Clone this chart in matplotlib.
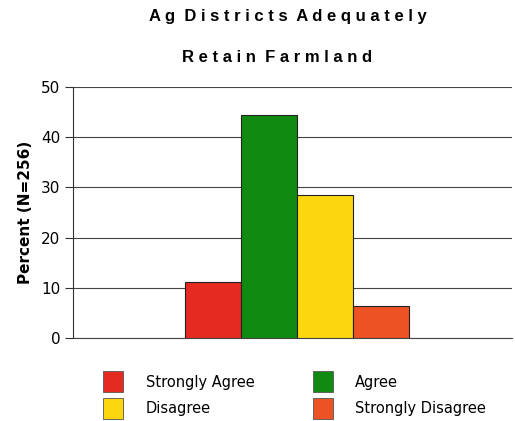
import matplotlib.pyplot as plt
import numpy as np
from matplotlib.patches import Rectangle

categories = ["Strongly Agree", "Agree", "Disagree", "Strongly Disagree"]
percents = [11.2, 44.5, 28.4, 6.4]
colors = ["#e52a22", "#118a12", "#fcd70f", "#ec5224"]
yticks = [0, 10, 20, 30, 40, 50]

fig = plt.figure(figsize=(5.15, 4.21), dpi=100)
W, H = 515, 421
ax = fig.add_axes([73 / W, (H - 338) / H, (512 - 73) / W, (338 - 87) / H])

x = np.arange(len(categories))
ax.bar(x, percents, width=1.0, color=colors, edgecolor="#222222", linewidth=0.8, zorder=3)
ax.set_xlim(-2.5, 5.33)
ax.set_ylim(0, 50)
ax.set_yticks(yticks)
ax.set_yticklabels([str(t) for t in yticks], fontsize=11)
ax.yaxis.grid(True, color="#444444", linewidth=0.8, zorder=0)
ax.axhline(0, color="#444444", linewidth=0.8, zorder=2, clip_on=False)
ax.set_xticks([])
for s in ["top", "right", "bottom"]:
    ax.spines[s].set_visible(False)
ax.spines["left"].set_color("#333333")
ax.tick_params(axis="y", length=6, width=0.8, color="#333333", pad=3)
ax.set_ylabel("Percent (N=256)", fontsize=11, fontweight="bold", labelpad=6)

fig.text(288 / W, 1 - 17 / H, "A g  D i s t r i c t s  A d e q u a t e l y", ha="center", va="center",
         fontsize=12, fontweight="bold", family="Liberation Sans")
fig.text(277 / W, 1 - 58 / H, "R e t a i n  F a r m l a n d", ha="center", va="center",
         fontsize=12, fontweight="bold", family="Liberation Sans")

# legend
pos = [(103, 371, 146), (313, 371, 355), (103, 398, 146), (313, 398, 355)]
for (lx, ly, tx), i in zip(pos, range(len(categories))):
    fig.patches.append(Rectangle((lx / W, 1 - (ly + 21) / H), 20 / W, 21 / H,
                                 transform=fig.transFigure, facecolor=colors[i],
                                 edgecolor="#555555", linewidth=0.6))
    fig.text(tx / W, 1 - (ly + 11) / H, categories[i], ha="left", va="center", fontsize=10.5)

fig.savefig("out.png", dpi=100)
